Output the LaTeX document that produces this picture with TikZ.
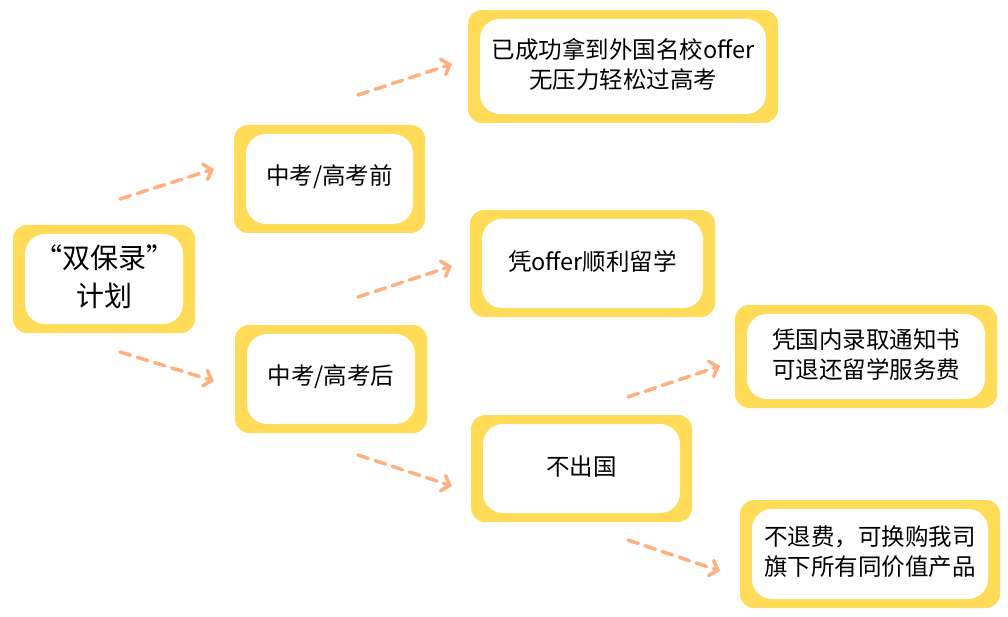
\documentclass[tikz,border=0pt]{standalone}
\usepackage{fontspec}
\setmainfont{Noto Sans CJK SC}
\usetikzlibrary{arrows.meta}
\definecolor{yel}{HTML}{FFDB57}
\definecolor{arr}{HTML}{FFB07E}
\tikzset{
  x=1pt,y=-1pt,
  conn/.style={draw=arr,line width=3.5pt,dash pattern=on 11pt off 7pt,line cap=round,
    -{Straight Barb[length=7pt,width=16pt,line width=3.5pt,line cap=round]}},
  lbl/.style={font=\fontsize{23.5}{30}\selectfont,align=center,text=black},
  big/.style={font=\fontsize{28}{38}\selectfont}
}
\newcommand{\ybox}[7][]{% opts, name, x1,y1,x2,y2, text
  \fill[yel,rounded corners=14pt] (#3,#4) rectangle (#5,#6);
  \fill[white,rounded corners=20pt] (#3+12,#4+9) rectangle (#5-12,#6-9);
  \node[lbl,#1] (#2) at ({(#3+#5)/2},{(#4+#6)/2-2}) {#7};
}
\begin{document}
\begin{tikzpicture}
\useasboundingbox (0,0) rectangle (1008,617);
\ybox[big]{a}{13}{225}{195}{333}{“双保录”\\计划}
\ybox{b}{234}{125}{425}{233}{中考/高考前}
\ybox{c}{235}{325}{427}{433}{中考/高考后}
\ybox{d}{468}{10}{778}{123}{已成功拿到外国名校offer\\无压力轻松过高考}
\ybox{e}{470}{210}{715}{317}{凭offer顺利留学}
\ybox{f}{471}{415}{692}{522}{不出国}
\ybox{g}{735}{305}{997}{408}{凭国内录取通知书\\可退还留学服务费}
\ybox{h}{740}{500}{1000}{608}{不退费，可换购我司\\旗下所有同价值产品}
\coordinate (a1) at (120,199); \coordinate (b0) at (214,169);
\coordinate (a2) at (120,352); \coordinate (c0) at (214,381);
\coordinate (b1) at (358,95);  \coordinate (d0) at (452,64);
\coordinate (c1) at (358,297); \coordinate (e0) at (452,266);
\coordinate (c2) at (358,455); \coordinate (f0) at (452,486);
\coordinate (f1) at (628,397); \coordinate (g0) at (720,366);
\coordinate (f2) at (628,540); \coordinate (h0) at (720,571);
\draw[conn] (a1) -- (b0);
\draw[conn] (a2) -- (c0);
\draw[conn] (b1) -- (d0);
\draw[conn] (c1) -- (e0);
\draw[conn] (c2) -- (f0);
\draw[conn] (f1) -- (g0);
\draw[conn] (f2) -- (h0);
\end{tikzpicture}
\end{document}
